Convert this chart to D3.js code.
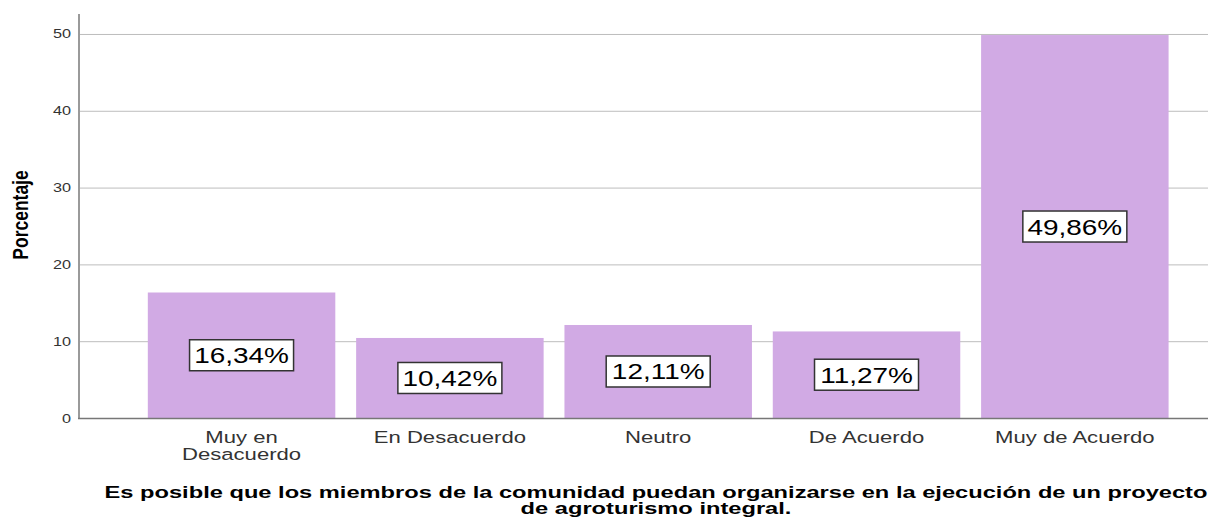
<!DOCTYPE html>
<html>
<head>
<meta charset="utf-8">
<script src="https://cdn.jsdelivr.net/npm/d3@7"></script>
<style>
  body { margin: 0; background: #fff; }
  text { font-family: "Liberation Sans", Arial, sans-serif; }
</style>
</head>
<body>
<div id="chart"></div>
<script>
// categories and values (percent)
var categories = ["Muy en\nDesacuerdo", "En Desacuerdo", "Neutro", "De Acuerdo", "Muy de Acuerdo"];
var values = [16.34, 10.42, 12.11, 11.27, 49.86];
var valueLabels = ["16,34%", "10,42%", "12,11%", "11,27%", "49,86%"];
var yTicks = [0, 10, 20, 30, 40, 50];
var yTitle = "Porcentaje";
var xTitle = ["Es posible que los miembros de la comunidad puedan organizarse en la ejecución de un proyecto",
              "de agroturismo integral."];

var width = 1225, height = 520;
var stretch = 1.3; // the picture is stretched horizontally

var svg = d3.select("#chart").append("svg")
    .attr("width", width)
    .attr("height", height);

var x = d3.scaleBand()
    .domain(d3.range(categories.length))
    .range([137.4, 1179])
    .paddingInner(0.1)
    .paddingOuter(0.05);

var y = d3.scaleLinear()
    .domain([0, 52.6])
    .range([418, 14]);

// gridlines
svg.selectAll("line.grid")
    .data(yTicks.slice(1))
    .enter().append("line")
    .attr("class", "grid")
    .attr("x1", 79).attr("x2", 1208)
    .attr("y1", function (d) { return y(d) + 0.5; })
    .attr("y2", function (d) { return y(d) + 0.5; })
    .attr("stroke", "#bdbdbd")
    .attr("stroke-width", 1);

// y tick labels
svg.selectAll("text.ytick")
    .data(yTicks)
    .enter().append("text")
    .attr("class", "ytick")
    .attr("text-anchor", "end")
    .attr("transform", function (d) { return "translate(71," + (y(d) + 4.5) + ") scale(" + stretch + ",1)"; })
    .attr("font-size", "12.5px")
    .attr("fill", "#333")
    .text(function (d) { return d; });

// bars
svg.selectAll("rect.bar")
    .data(values)
    .enter().append("rect")
    .attr("class", "bar")
    .attr("x", function (d, i) { return x(i); })
    .attr("width", x.bandwidth())
    .attr("y", function (d) { return y(d); })
    .attr("height", function (d) { return y(0) - y(d); })
    .attr("fill", "#d1aae4");

// axes lines
svg.append("line")
    .attr("x1", 79).attr("x2", 79)
    .attr("y1", 14).attr("y2", 419)
    .attr("stroke", "#9a9a9a").attr("stroke-width", 2);
svg.append("line")
    .attr("x1", 78).attr("x2", 1208)
    .attr("y1", 418.5).attr("y2", 418.5)
    .attr("stroke", "#777").attr("stroke-width", 1.5);

// value label boxes
var lab = svg.selectAll("g.lab")
    .data(values)
    .enter().append("g")
    .attr("class", "lab")
    .attr("transform", function (d, i) {
        return "translate(" + (x(i) + x.bandwidth() / 2) + "," + y(d / 2) + ")";
    });
lab.append("rect")
    .attr("x", -52).attr("y", -15.5)
    .attr("width", 104).attr("height", 31)
    .attr("fill", "#fff")
    .attr("stroke", "#333")
    .attr("stroke-width", 1.5);
lab.append("text")
    .attr("text-anchor", "middle")
    .attr("transform", "translate(0,8) scale(" + stretch + ",1)")
    .attr("font-size", "21.5px")
    .attr("fill", "#000")
    .text(function (d, i) { return valueLabels[i]; });

// x category labels
var xl = svg.selectAll("text.xtick")
    .data(categories)
    .enter().append("text")
    .attr("class", "xtick")
    .attr("text-anchor", "middle")
    .attr("transform", function (d, i) {
        return "translate(" + (x(i) + x.bandwidth() / 2) + ",443) scale(" + stretch + ",1)";
    })
    .attr("font-size", "17px")
    .attr("fill", "#333");
xl.selectAll("tspan")
    .data(function (d) { return d.split("\n"); })
    .enter().append("tspan")
    .attr("x", 0)
    .attr("dy", function (d, i) { return i === 0 ? 0 : 17.5; })
    .text(function (d) { return d; });

// y axis title
svg.append("text")
    .attr("text-anchor", "middle")
    .attr("transform", "translate(28,215) scale(" + stretch + ",1) rotate(-90)")
    .attr("font-size", "17.5px")
    .attr("font-weight", "bold")
    .attr("fill", "#000")
    .text(yTitle);

// x axis title
svg.selectAll("text.xtitle")
    .data(xTitle)
    .enter().append("text")
    .attr("class", "xtitle")
    .attr("text-anchor", "middle")
    .attr("transform", function (d, i) { return "translate(656," + (498 + i * 16) + ") scale(1.48,1)"; })
    .attr("font-size", "16px")
    .attr("font-weight", "bold")
    .attr("fill", "#000")
    .text(function (d) { return d; });
</script>
</body>
</html>
